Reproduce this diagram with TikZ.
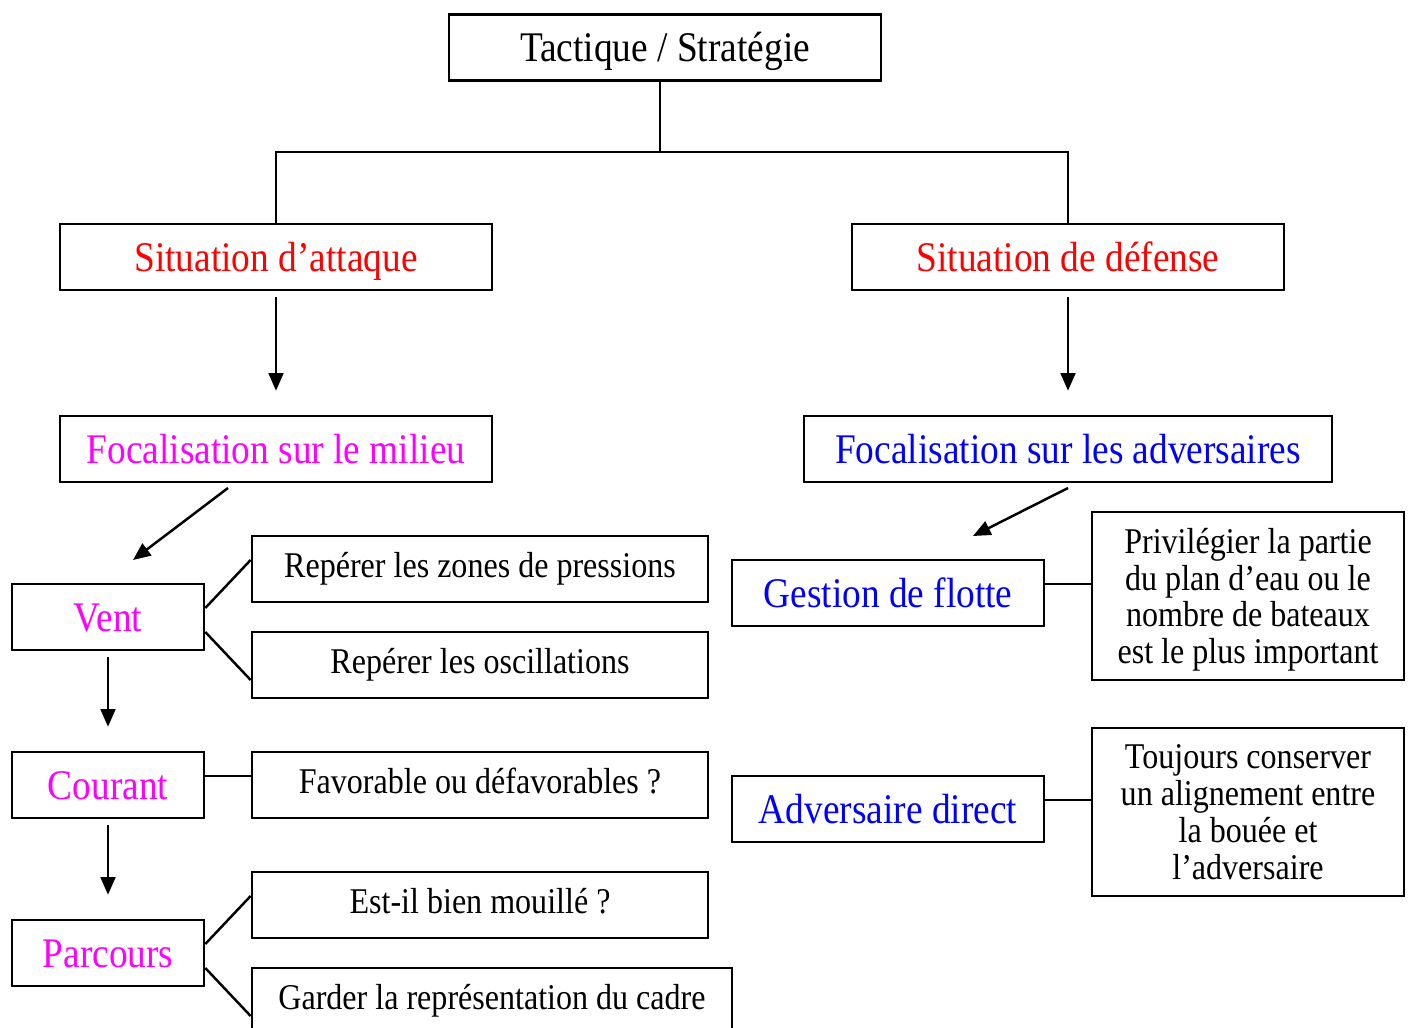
\documentclass[tikz,border=0pt]{standalone}
\usepackage{fontspec}
\setmainfont{Liberation Serif}[FakeStretch=0.885]
\usetikzlibrary{calc,arrows.meta}
\definecolor{rouge}{RGB}{255,0,0}
\definecolor{rose}{RGB}{255,0,255}
\definecolor{bleu}{RGB}{0,0,255}
\tikzset{
	boite/.style={draw, line width=0.7pt, inner sep=0pt, minimum height=0.66cm, text height=8.5pt, text depth=0.5pt, font=\fontsize{12}{14}\selectfont},
	petite/.style={draw, line width=0.7pt, inner sep=0pt, minimum height=0.66cm, minimum width=4.56cm, text height=7.2pt, text depth=2.2pt, font=\fontsize{10.3}{10.45}\selectfont},
	note/.style={draw, line width=0.7pt, inner sep=0pt, minimum height=1.68cm, minimum width=3.12cm, align=center, text depth=0pt, font=\fontsize{10.3}{10.45}\selectfont},
	lien/.style={line width=0.7pt},
	fleche/.style={line width=0.7pt, -{Triangle[length=5pt,width=4.2pt]}}
}

\begin{document}
\begin{tikzpicture}[x=0.01cm, y=-0.01cm]
			%%%%% START %%%%%
			\useasboundingbox (0, 0) rectangle (1409, 1028);
			\clip (0, 0) rectangle (1409, 1028);
			
			\node[boite, minimum width=4.32cm] (tactique) at (665, 47.5) {Tactique / Stratégie};
			
			\node[boite, minimum width=4.32cm, text=rouge] (attaque) at (276, 257) {Situation d’attaque};
			\node[boite, minimum width=4.32cm, text=rouge] (defense) at (1068, 257) {Situation de défense};
			
			\coordinate (embranchement) at (660, 152);
			\draw[lien] (tactique.south -| embranchement) -- (embranchement);
			\draw[lien] (attaque.north) |- (embranchement) -| (defense.north);
			
			\node[boite, minimum width=4.32cm, text=rose] (milieu) at (276, 449) {Focalisation sur le milieu};
			\node[boite, minimum width=5.28cm, text=bleu] (adversaires) at (1068, 449) {Focalisation sur les adversaires};
			
			\draw[fleche, shorten <=0.06cm, shorten >=0.24cm] (attaque) -- (milieu);
			\draw[fleche, shorten <=0.06cm, shorten >=0.24cm] (defense) -- (adversaires);
			
			% cote milieu
			\node[boite, minimum width=1.92cm, text=rose] (vent) at (108, 617) {Vent};
			\node[boite, minimum width=1.92cm, text=rose] (courant) at (108, 785) {Courant};
			\node[boite, minimum width=1.92cm, text=rose] (parcours) at (108, 953) {Parcours};
			
			\coordinate (m1) at (228, 488);
			\coordinate (m2) at (133, 560);
			\draw[fleche] (m1) -- (m2);
			\draw[fleche, shorten <=0.06cm, shorten >=0.24cm] (vent) -- (courant);
			\draw[fleche, shorten <=0.06cm, shorten >=0.24cm] (courant) -- (parcours);
			
			\node[petite] (zones) at (480, 569) {Repérer les zones de pressions};
			\node[petite] (oscillations) at (480, 665) {Repérer les oscillations};
			\node[petite] (favorable) at (480, 785) {Favorable ou défavorables ?};
			\node[petite] (mouille) at (480, 905) {Est-il bien mouillé ?};
			\node[petite, minimum width=4.80cm] (cadre) at (492, 1001) {Garder la représentation du cadre};
			
			\draw[lien] ($(vent.east)+(0, -9)$) -- ($(zones.west)+(0, -9)$);
			\draw[lien] ($(vent.east)+(0, 15)$) -- ($(oscillations.west)+(0, 15)$);
			\draw[lien] ($(courant.east)+(0, -9)$) -- ($(favorable.west)+(0, -9)$);
			\draw[lien] ($(parcours.east)+(0, -9)$) -- ($(mouille.west)+(0, -9)$);
			\draw[lien] ($(parcours.east)+(0, 15)$) -- ($(cadre.west)+(0, 15)$);
			
			% cote adversaires
			\node[boite, minimum width=3.12cm, text=bleu] (gestion) at (888, 593) {Gestion de flotte};
			\node[boite, minimum width=3.12cm, text=bleu] (direct) at (888, 809) {Adversaire direct};
			
			\coordinate (a1) at (1068, 488);
			\coordinate (a2) at (973, 536);
			\draw[fleche] (a1) -- (a2);
			
			\node[note] (privilegier) at (1248, 596) {Privilégier la partie\\du plan d’eau ou le\\nombre de bateaux\\est le plus important};
			\node[note] (toujours) at (1248, 812) {Toujours conserver\\un alignement entre\\la bouée et\\l’adversaire};
			
			\draw[lien] ($(gestion.east)+(0, -9)$) -- (privilegier.west |- {$(gestion.east)+(0, -9)$});
			\draw[lien] ($(direct.east)+(0, -9)$) -- (toujours.west |- {$(direct.east)+(0, -9)$});
			
			%%%%% END %%%%%
\end{tikzpicture}
\end{document}
